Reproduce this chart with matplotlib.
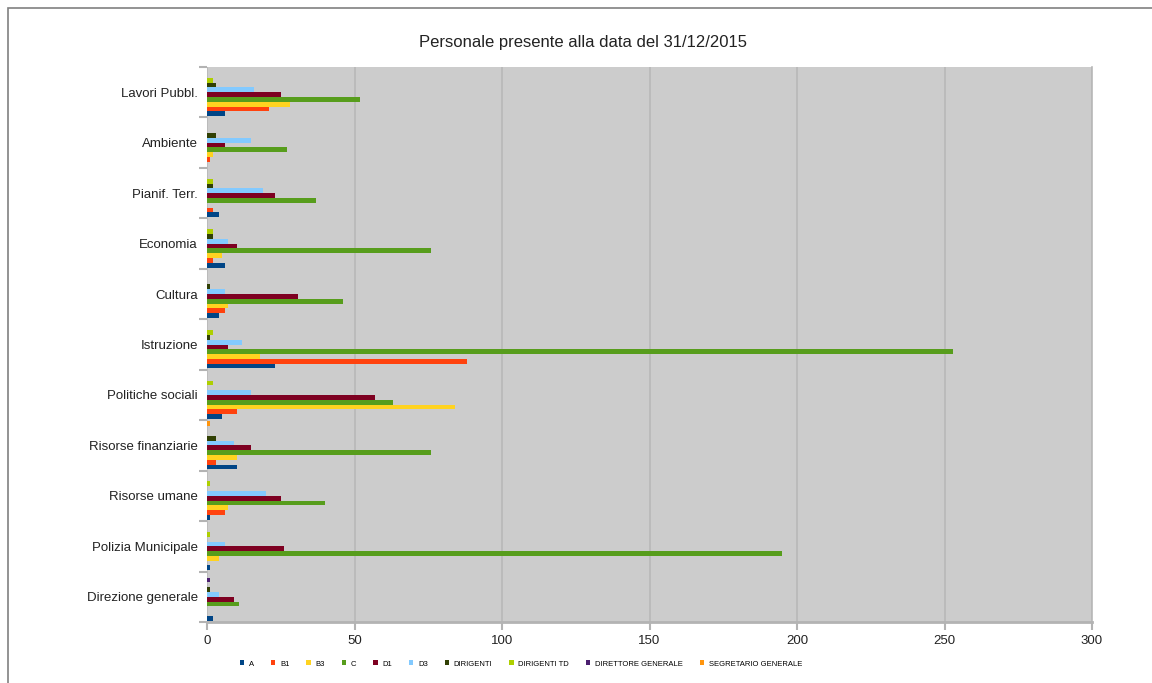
import matplotlib
matplotlib.use("Agg")
import matplotlib.pyplot as plt
import numpy as np
from matplotlib.patches import Rectangle

plt.rcParams["font.family"] = ["Liberation Sans", "DejaVu Sans"]

# --- data (categories listed top to bottom as in the chart) ---
categories = ["Lavori Pubbl.", "Ambiente", "Pianif. Terr.", "Economia", "Cultura",
              "Istruzione", "Politiche sociali", "Risorse finanziarie",
              "Risorse umane", "Polizia Municipale", "Direzione generale"]

series_names = ["A", "B1", "B3", "C", "D1", "D3", "DIRIGENTI", "DIRIGENTI TD",
                "DIRETTORE GENERALE", "SEGRETARIO GENERALE"]

val_a      = [6, 0, 4, 6, 4, 23, 5, 10, 1, 1, 2]
val_b1     = [21, 1, 2, 2, 6, 88, 10, 3, 6, 0, 0]
val_b3     = [28, 2, 0, 5, 7, 18, 84, 10, 7, 4, 0]
val_c      = [52, 27, 37, 76, 46, 253, 63, 76, 40, 195, 11]
val_d1     = [25, 6, 23, 10, 31, 7, 57, 15, 25, 26, 9]
val_d3     = [16, 15, 19, 7, 6, 12, 15, 9, 20, 6, 4]
val_dir    = [3, 3, 2, 2, 1, 1, 0, 3, 0, 0, 1]
val_dir_td = [2, 0, 2, 2, 0, 2, 2, 0, 1, 1, 0]
val_dg     = [0, 0, 0, 0, 0, 0, 0, 0, 0, 0, 1]
val_sg     = [0, 0, 0, 0, 0, 0, 0, 1, 0, 0, 0]

series_vals = [val_a, val_b1, val_b3, val_c, val_d1, val_d3,
               val_dir, val_dir_td, val_dg, val_sg]

colors = ["#004586", "#ff420e", "#ffd320", "#579d1c", "#7e0021", "#83caff",
          "#314004", "#aecf00", "#4b1f6f", "#ff950e"]

# --- figure ---
fig = plt.figure(figsize=(11.52, 6.83), dpi=100)
W, H = 1152, 683
ax = fig.add_axes([207 / W, 1 - 622 / H, (1092 - 207) / W, (622 - 67) / H])
ax.set_facecolor("#cccccc")

n_cat = len(categories)
n_ser = len(series_names)
pos = np.arange(n_cat)[::-1].astype(float)   # top category at highest y
bar_h = 0.95 / n_ser

for i, (name, vals, col) in enumerate(zip(series_names, series_vals, colors)):
    offs = -0.475 + bar_h * (i + 0.5)
    ax.barh(pos + offs, vals, height=bar_h, color=col, label=name, zorder=3)

ax.set_xlim(0, 300)
ax.set_ylim(-0.5, n_cat - 0.5)
ax.set_xticks(np.arange(0, 301, 50))
ax.xaxis.grid(True, color="#b8b8b8", linewidth=1.2, zorder=0)
ax.set_axisbelow(True)

# group boundaries as major ticks, labels on minor ticks
ax.set_yticks(np.arange(-0.5, n_cat, 1.0))
ax.set_yticklabels([])
ax.set_yticks(pos, minor=True)
ax.set_yticklabels(categories, minor=True, fontsize=9.5, color="#222222")
ax.tick_params(axis="y", which="major", length=6, width=1.5, color="#b3b3b3")
ax.tick_params(axis="y", which="minor", length=0, pad=6.5)
ax.tick_params(axis="x", length=6, width=1.5, color="#b3b3b3", labelsize=9.5,
               labelcolor="#222222", pad=3)

for side in ("top", "left"):
    ax.spines[side].set_visible(False)
ax.spines["right"].set_color("#b8b8b8")
ax.spines["right"].set_linewidth(1.2)
ax.spines["bottom"].set_color("#b3b3b3")
ax.spines["bottom"].set_linewidth(2)

fig.text(583 / W, 1 - 43 / H, "Personale presente alla data del 31/12/2015",
         ha="center", va="center", fontsize=12, color="#222222")

handles, labels = ax.get_legend_handles_labels()
fig.legend(handles, labels, loc="center", bbox_to_anchor=(521 / W, 1 - 664 / H),
           ncol=n_ser, frameon=False, fontsize=5.5, handlelength=0.6,
           handleheight=0.6, handletextpad=0.6, columnspacing=2.2)

# outer frame (only left and top edges fall inside the image)
fig.patches.append(Rectangle((7.5 / W, -0.1), 1.2, 1 - 8 / H + 0.1,
                             transform=fig.transFigure, fill=False,
                             edgecolor="#808080", linewidth=1.2))

fig.savefig("out.png", dpi=100)
